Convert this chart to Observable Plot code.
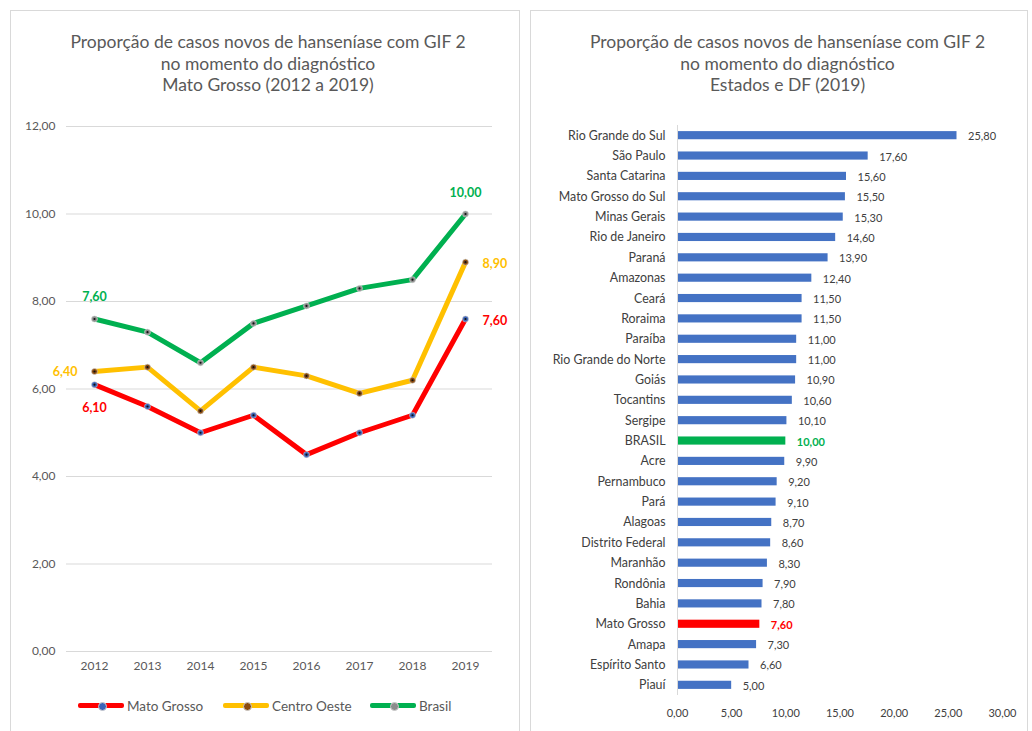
<!DOCTYPE html>
<html>
<head>
<meta charset="utf-8">
<script src="https://cdn.jsdelivr.net/npm/d3@7"></script>
<script src="https://cdn.jsdelivr.net/npm/@observablehq/plot@0.6"></script>
<style>
  html, body { margin: 0; padding: 0; background: #ffffff; }
  body { width: 1032px; height: 731px; position: relative; overflow: hidden; font-family: Lato, "Open Sans", sans-serif; }
  .panel { position: absolute; border: 1px solid #d9d9d9; background: #fff; box-sizing: border-box; }
  .title { position: absolute; text-align: center; color: #595959; font-size: 17.5px; line-height: 21.5px; white-space: nowrap; }
  .abs { position: absolute; }
  .legend { position: absolute; top: 697px; left: 10px; width: 510px; height: 18px; font-size: 13.5px; color: #595959; }
  .lg { position: absolute; top: 0; height: 18px; }
  .lg .ln { position: absolute; top: 6px; height: 5px; width: 46px; border-radius: 2px; }
  .lg .mk { position: absolute; top: 5px; width: 7px; height: 7px; border-radius: 50%; left: 20px; }
  .lg .tx { position: absolute; top: 0; left: 49px; white-space: nowrap; line-height: 18px; }
</style>
</head>
<body>
<div class="panel" style="left:10px; top:10px; width:510px; height:725px;"></div>
<div class="panel" style="left:530px; top:10px; width:498px; height:725px;"></div>

<div class="title" style="left:10px; top:31px; width:516px;">Proporção de casos novos de hanseníase com GIF 2<br>no momento do diagnóstico<br>Mato Grosso (2012 a 2019)</div>
<div class="title" style="left:540px; top:31px; width:495px;">Proporção de casos novos de hanseníase com GIF 2<br>no momento do diagnóstico<br>Estados e DF (2019)</div>

<div id="left" class="abs" style="left:10px; top:100px;"></div>
<div id="right" class="abs" style="left:530px; top:120px;"></div>
<div id="legend" class="legend"></div>

<script>
// ---- Left chart data ----
const years = [2012, 2013, 2014, 2015, 2016, 2017, 2018, 2019];
const matoGrosso = [6.1, 5.6, 5.0, 5.4, 4.5, 5.0, 5.4, 7.6];
const centroOeste = [6.4, 6.5, 5.5, 6.5, 6.3, 5.9, 6.2, 8.9];
const brasil = [7.6, 7.3, 6.6, 7.5, 7.9, 8.3, 8.5, 10.0];
const seriesNames = ["Mato Grosso", "Centro Oeste", "Brasil"];
const yTicks = [0, 2, 4, 6, 8, 10, 12];

// ---- Right chart data ----
const states = ["Rio Grande do Sul", "São Paulo", "Santa Catarina", "Mato Grosso do Sul", "Minas Gerais",
  "Rio de Janeiro", "Paraná", "Amazonas", "Ceará", "Roraima", "Paraíba", "Rio Grande do Norte", "Goiás",
  "Tocantins", "Sergipe", "BRASIL", "Acre", "Pernambuco", "Pará", "Alagoas", "Distrito Federal", "Maranhão",
  "Rondônia", "Bahia", "Mato Grosso", "Amapa", "Espírito Santo", "Piauí"];
const stateValues = [25.8, 17.6, 15.6, 15.5, 15.3, 14.6, 13.9, 12.4, 11.5, 11.5, 11.0, 11.0, 10.9,
  10.6, 10.1, 10.0, 9.9, 9.2, 9.1, 8.7, 8.6, 8.3, 7.9, 7.8, 7.6, 7.3, 6.6, 5.0];
const xTicks = [0, 5, 10, 15, 20, 25, 30];

const fmt = v => d3.format(".2f")(v).replace(".", ",");

const colors = { "Mato Grosso": "#ff0000", "Centro Oeste": "#ffc000", "Brasil": "#00b050" };
const markerColors = { "Mato Grosso": "#3b64b8", "Centro Oeste": "#8a4a10", "Brasil": "#8c8c8c" };

const seriesValues = [matoGrosso, centroOeste, brasil];
const lineData = seriesNames.flatMap((s, i) => years.map((y, j) => ({ series: s, year: y, value: seriesValues[i][j] })));
const pick = (s, y) => lineData.filter(d => d.series === s && d.year === y);

const labelFont = { fontSize: 12.5, fontWeight: "bold" };

const left = Plot.plot({
  width: 510, height: 585,
  marginTop: 26, marginBottom: 34, marginLeft: 56, marginRight: 28,
  style: { fontFamily: "Lato, 'Open Sans', sans-serif", fontSize: "12px", color: "#595959", background: "transparent" },
  x: { type: "point", domain: years, padding: 0.5, label: null, tickSize: 0, tickPadding: 10, tickFormat: d => String(d) },
  y: { domain: [0, 12], ticks: yTicks, tickFormat: fmt, label: null, tickSize: 0, tickPadding: 11 },
  marks: [
    Plot.ruleY(yTicks, { stroke: "#d9d9d9", strokeWidth: 1 }),
    ...seriesNames.map(s => Plot.lineY(lineData.filter(d => d.series === s), {
      x: "year", y: "value", stroke: colors[s], strokeWidth: 5, strokeLinejoin: "round", strokeLinecap: "round"
    })),
    ...seriesNames.map(s => Plot.dot(lineData.filter(d => d.series === s), {
      x: "year", y: "value", r: 3, fill: markerColors[s], stroke: "#d0d0d0", strokeWidth: 0.6
    })),
    Plot.dot(lineData, { x: "year", y: "value", r: 1.1, fill: "#111" }),
    Plot.text(pick("Brasil", 2012), { x: "year", y: "value", text: d => fmt(d.value), dy: -22, fill: "#00b050", ...labelFont }),
    Plot.text(pick("Brasil", 2019), { x: "year", y: "value", text: d => fmt(d.value), dy: -21, fill: "#00b050", ...labelFont }),
    Plot.text(pick("Centro Oeste", 2012), { x: "year", y: "value", text: d => fmt(d.value), dx: -17, textAnchor: "end", fill: "#ffc000", ...labelFont }),
    Plot.text(pick("Centro Oeste", 2019), { x: "year", y: "value", text: d => fmt(d.value), dx: 17, dy: 2, textAnchor: "start", fill: "#ffc000", ...labelFont }),
    Plot.text(pick("Mato Grosso", 2012), { x: "year", y: "value", text: d => fmt(d.value), dy: 23, fill: "#ff0000", ...labelFont }),
    Plot.text(pick("Mato Grosso", 2019), { x: "year", y: "value", text: d => fmt(d.value), dx: 17, dy: 2, textAnchor: "start", fill: "#ff0000", ...labelFont })
  ]
});
document.getElementById("left").appendChild(left);

// legend
const legendPos = { "Mato Grosso": 68, "Centro Oeste": 213, "Brasil": 360 };
const legendEl = document.getElementById("legend");
seriesNames.forEach(s => {
  const g = document.createElement("div");
  g.className = "lg";
  g.style.left = legendPos[s] + "px";
  g.innerHTML = `<div class="ln" style="background:${colors[s]}"></div><div class="mk" style="background:${markerColors[s]}; border:0.5px solid #ccc"></div><div class="tx">${s}</div>`;
  legendEl.appendChild(g);
});

// ---- Right chart ----
const barData = states.map((s, i) => ({ state: s, value: stateValues[i] }));
const highlight = d => d.state === "BRASIL" || d.state === "Mato Grosso";
const barFill = d => d.state === "BRASIL" ? "#00b050" : d.state === "Mato Grosso" ? "#ff0000" : "#4472c4";
const barText = d => d.state === "BRASIL" ? "#00b050" : d.state === "Mato Grosso" ? "#ff0000" : "#404040";

const right = Plot.plot({
  width: 495, height: 605,
  marginTop: 5, marginBottom: 30, marginLeft: 147, marginRight: 23,
  style: { fontFamily: "Lato, 'Open Sans', sans-serif", fontSize: "12.4px", color: "#404040", background: "transparent" },
  x: { domain: [0, 30], ticks: xTicks, tickFormat: fmt, label: null, tickSize: 0, tickPadding: 14, fontSize: 11 },
  y: { type: "band", domain: states, paddingInner: 0.6, paddingOuter: 0.3, round: false, label: null, tickSize: 0, tickPadding: 12 },
  marks: [
    Plot.barX(barData, { x: "value", y: "state", fill: barFill }),
    Plot.ruleX([0], { stroke: "#d9d9d9" }),
    Plot.text(barData.filter(d => !highlight(d)), { x: "value", y: "state", text: d => fmt(d.value), dx: 11, dy: 1, textAnchor: "start", fill: barText, fontSize: 11 }),
    Plot.text(barData.filter(highlight), { x: "value", y: "state", text: d => fmt(d.value), dx: 11, dy: 1, textAnchor: "start", fill: barText, fontSize: 11, fontWeight: "bold" })
  ]
});
right.querySelectorAll('[aria-label="x-axis tick label"] text').forEach(t => t.setAttribute("font-size", "11"));
document.getElementById("right").appendChild(right);
</script>
</body>
</html>
